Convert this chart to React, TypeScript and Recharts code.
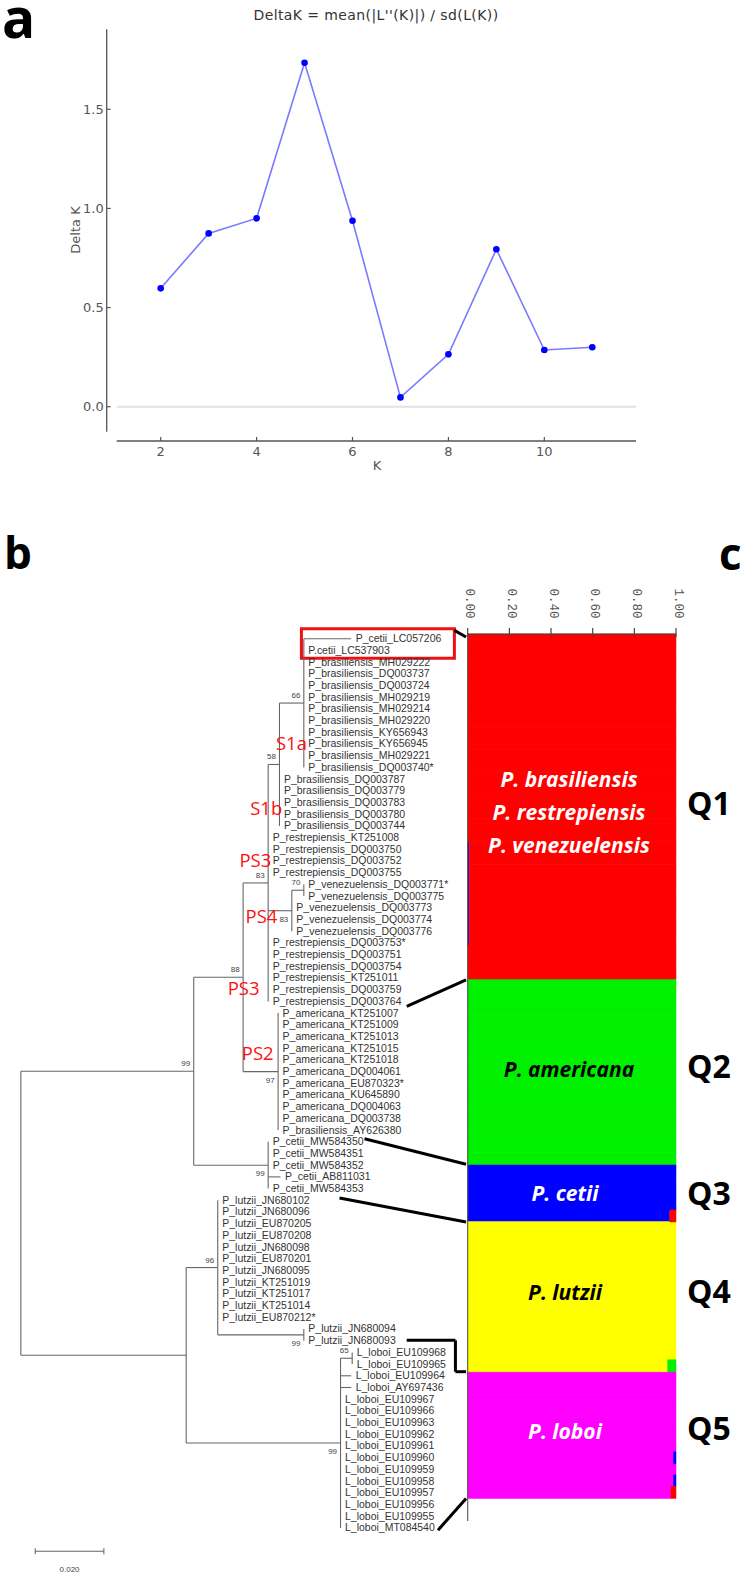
import React from 'react'
import {
  LineChart,
  Line,
  XAxis,
  YAxis,
  ReferenceLine,
  ReferenceArea,
  ScatterChart,
  Scatter,
  BarChart,
  Bar,
} from 'recharts'

// ---------- panel a: Evanno delta K ----------
const kValues = [2, 3, 4, 5, 6, 7, 8, 9, 10, 11]
const deltaK = [0.597, 0.874, 0.95, 1.735, 0.938, 0.047, 0.264, 0.794, 0.286, 0.3]
const kTicks = [2, 4, 6, 8, 10]
const dkTicks = [0, 0.5, 1, 1.5]

// ---------- panel b: tree ----------
const leafNames = [
  'P_cetii_LC057206',
  'P.cetii_LC537903',
  'P_brasiliensis_MH029222',
  'P_brasiliensis_DQ003737',
  'P_brasiliensis_DQ003724',
  'P_brasiliensis_MH029219',
  'P_brasiliensis_MH029214',
  'P_brasiliensis_MH029220',
  'P_brasiliensis_KY656943',
  'P_brasiliensis_KY656945',
  'P_brasiliensis_MH029221',
  'P_brasiliensis_DQ003740*',
  'P_brasiliensis_DQ003787',
  'P_brasiliensis_DQ003779',
  'P_brasiliensis_DQ003783',
  'P_brasiliensis_DQ003780',
  'P_brasiliensis_DQ003744',
  'P_restrepiensis_KT251008',
  'P_restrepiensis_DQ003750',
  'P_restrepiensis_DQ003752',
  'P_restrepiensis_DQ003755',
  'P_venezuelensis_DQ003771*',
  'P_venezuelensis_DQ003775',
  'P_venezuelensis_DQ003773',
  'P_venezuelensis_DQ003774',
  'P_venezuelensis_DQ003776',
  'P_restrepiensis_DQ003753*',
  'P_restrepiensis_DQ003751',
  'P_restrepiensis_DQ003754',
  'P_restrepiensis_KT251011',
  'P_restrepiensis_DQ003759',
  'P_restrepiensis_DQ003764',
  'P_americana_KT251007',
  'P_americana_KT251009',
  'P_americana_KT251013',
  'P_americana_KT251015',
  'P_americana_KT251018',
  'P_americana_DQ004061',
  'P_americana_EU870323*',
  'P_americana_KU645890',
  'P_americana_DQ004063',
  'P_americana_DQ003738',
  'P_brasiliensis_AY626380',
  'P_cetii_MW584350',
  'P_cetii_MW584351',
  'P_cetii_MW584352',
  'P_cetii_AB811031',
  'P_cetii_MW584353',
  'P_lutzii_JN680102',
  'P_lutzii_JN680096',
  'P_lutzii_EU870205',
  'P_lutzii_EU870208',
  'P_lutzii_JN680098',
  'P_lutzii_EU870201',
  'P_lutzii_JN680095',
  'P_lutzii_KT251019',
  'P_lutzii_KT251017',
  'P_lutzii_KT251014',
  'P_lutzii_EU870212*',
  'P_lutzii_JN680094',
  'P_lutzii_JN680093',
  'L_loboi_EU109968',
  'L_loboi_EU109965',
  'L_loboi_EU109964',
  'L_loboi_AY697436',
  'L_loboi_EU109967',
  'L_loboi_EU109966',
  'L_loboi_EU109963',
  'L_loboi_EU109962',
  'L_loboi_EU109961',
  'L_loboi_EU109960',
  'L_loboi_EU109959',
  'L_loboi_EU109958',
  'L_loboi_EU109957',
  'L_loboi_EU109956',
  'L_loboi_EU109955',
  'L_loboi_MT084540',
]

const range = (a: number, b: number) => {
  const out: number[] = []
  for (let i = a; i <= b; i++) out.push(i)
  return out
}

// internal nodes: depth from root (substitutions/site), bootstrap, children (leaf no. or clade id)
const clades: { id: string; depth: number; support: string; kids: (string | number)[] }[] = [
  { id: 'root', depth: 0, support: '', kids: ['upper', 'lower'] },
  { id: 'upper', depth: 0.0504, support: '99', kids: ['n88', 'cetii'] },
  { id: 'n88', depth: 0.0648, support: '88', kids: ['n83', 'amer'] },
  { id: 'n83', depth: 0.0721, support: '83', kids: ['n58', 18, 19, 20, 21, 'venez', 27, 28, 29, 30, 31, 32] },
  { id: 'n58', depth: 0.0754, support: '58', kids: ['n66', 13, 14, 15, 16, 17] },
  { id: 'n66', depth: 0.0825, support: '66', kids: range(1, 12) },
  { id: 'venez', depth: 0.079, support: '83', kids: ['n70', 24, 25, 26] },
  { id: 'n70', depth: 0.0825, support: '70', kids: [22, 23] },
  { id: 'amer', depth: 0.075, support: '97', kids: range(33, 43) },
  { id: 'cetii', depth: 0.0721, support: '99', kids: range(44, 48) },
  { id: 'lower', depth: 0.0482, support: '', kids: ['lutzii', 'loboi'] },
  { id: 'lutzii', depth: 0.0574, support: '96', kids: [...range(49, 59), 'lutz2'] },
  { id: 'lutz2', depth: 0.0825, support: '99', kids: [60, 61] },
  { id: 'loboi', depth: 0.0932, support: '99', kids: ['lob65', ...range(64, 77)] },
  { id: 'lob65', depth: 0.0966, support: '65', kids: [62, 63] },
]

// leaves with a visible terminal branch
const leafTips: Record<number, number> = { 1: 0.0963, 47: 0.0757, 64: 0.0963, 65: 0.0963 }

const supportBelow = ['venez', 'amer', 'cetii', 'lutz2', 'loboi']

const cladeTags = [
  { text: 'S1a', x: 0.0834, y: 9.84 },
  { text: 'S1b', x: 0.0762, y: 15.47 },
  { text: 'PS3', x: 0.073, y: 19.9 },
  { text: 'PS4', x: 0.0748, y: 24.65 },
  { text: 'PS3', x: 0.0696, y: 30.77 },
  { text: 'PS2', x: 0.0737, y: 36.34 },
]

// links from tree to the structure bar
const connectors: [number, number][][] = [
  [[0.1264, 0.29], [0.1298, 0.85]],
  [[0.1125, 32.43], [0.1298, 30.17]],
  [[0.1002, 43.74], [0.1298, 45.92]],
  [[0.0929, 48.81], [0.1298, 50.85]],
  [[0.1125, 60.97], [0.1267, 60.97], [0.1267, 63.65], [0.1298, 63.65]],
  [[0.1216, 77.2], [0.1298, 74.48]],
]

// ---------- panel c: structure ----------
const clusters = ['Q1', 'Q2', 'Q3', 'Q4', 'Q5']
const clusterSizes = [30, 16, 5, 13, 11]
const blankRows = 2
const clusterColors: Record<string, string> = {
  Q1: '#ff0000',
  Q2: '#00f000',
  Q3: '#0000ff',
  Q4: '#ffff00',
  Q5: '#ff00ff',
}
const stackOrder = ['Q5', 'Q3', 'Q4', 'Q1', 'Q2']
const admixture = [
  { first: 18, last: 26, cluster: 'Q3', share: 0.007 },
  { first: 50, last: 50, cluster: 'Q1', share: 0.03 },
  { first: 63, last: 63, cluster: 'Q2', share: 0.04 },
  { first: 71, last: 71, cluster: 'Q3', share: 0.012 },
  { first: 73, last: 73, cluster: 'Q3', share: 0.012 },
  { first: 74, last: 74, cluster: 'Q1', share: 0.025 },
]
const qTicks = [0, 0.2, 0.4, 0.6, 0.8, 1]

// ---------- derived tables ----------
const lineData = kValues.map((k, i) => ({ k, dk: deltaK[i] }))

const cladeMap: Record<string, (typeof clades)[number]> = {}
clades.forEach((c) => (cladeMap[c.id] = c))
const parentDepth: Record<number, number> = {}
clades.forEach((c) => c.kids.forEach((k) => typeof k === 'number' && (parentDepth[k] = c.depth)))

const nodeY: Record<string, number> = {}
const yOf = (k: string | number): number => {
  if (typeof k === 'number') return k
  if (nodeY[k] !== undefined) return nodeY[k]
  const c = cladeMap[k]
  const y = (yOf(c.kids[0]) + yOf(c.kids[c.kids.length - 1])) / 2
  nodeY[k] = y
  return y
}
const xOf = (k: string | number, parent: number) =>
  typeof k === 'number' ? leafTips[k] ?? parent : cladeMap[k].depth

const branches: { x1: number; y1: number; x2: number; y2: number }[] = []
clades.forEach((c) => {
  const first = c.kids[0]
  const last = c.kids[c.kids.length - 1]
  branches.push({ x1: c.depth, y1: yOf(first), x2: c.depth, y2: yOf(last) })
  c.kids.forEach((k) => {
    const kx = xOf(k, c.depth)
    if (kx > c.depth + 1e-6) branches.push({ x1: c.depth, y1: yOf(k), x2: kx, y2: yOf(k) })
  })
})

const leafPoints = leafNames.map((name, i) => ({
  x: leafTips[i + 1] ?? parentDepth[i + 1],
  y: i + 1,
  name,
}))
const supportPoints = clades
  .filter((c) => c.support)
  .map((c) => ({ x: c.depth, y: yOf(c.id), support: c.support, below: supportBelow.includes(c.id) }))

const structureRows: Record<string, number | string>[] = []
clusters.forEach((q, ci) => {
  for (let n = 0; n < clusterSizes[ci]; n++) {
    const row: Record<string, number | string> = { id: `s${structureRows.length}`, home: q }
    clusters.forEach((c) => (row[c] = c === q ? 1 : 0))
    structureRows.push(row)
  }
})
admixture.forEach((a) => {
  for (let r = a.first; r <= a.last; r++) {
    const row = structureRows[r]
    row[a.cluster] = a.share
    row[row.home as string] = 1 - a.share
  }
})
for (let b = 0; b < blankRows; b++) {
  const row: Record<string, number | string> = { id: `b${b}`, home: '' }
  clusters.forEach((c) => (row[c] = 0))
  structureRows.push(row)
}

// ---------- styling ----------
const axisGray = '#555'
const mplFont = "'DejaVu Sans', sans-serif"
const treeFont = "'Liberation Sans', Arial, sans-serif"
const calibri = "'Open Sans', sans-serif"
const treeStroke = '#666'

const PLOT_A_LEFT = 106.7

const YTick = (props: any) => {
  const { y, payload } = props
  return (
    <g>
      <line x1={PLOT_A_LEFT} x2={PLOT_A_LEFT + 4} y1={y} y2={y} stroke={axisGray} strokeWidth={1.2} />
      <text x={PLOT_A_LEFT - 3} y={y} textAnchor='end' dominantBaseline='central' fontSize={13} fontFamily={mplFont} fill='#555'>
        {Number(payload.value).toFixed(1)}
      </text>
    </g>
  )
}

const XTick = (props: any) => {
  const { x, payload } = props
  return (
    <g>
      <line x1={x} x2={x} y1={441} y2={437} stroke={axisGray} strokeWidth={1.2} />
      <text x={x} y={451} textAnchor='middle' dominantBaseline='central' fontSize={13} fontFamily={mplFont} fill='#555'>
        {payload.value}
      </text>
    </g>
  )
}

const LeafText = (props: any) => {
  const { cx, cy, payload } = props
  return (
    <text x={cx + 4.5} y={cy} dominantBaseline='central' fontSize={10.5} fontFamily={treeFont} fill='#333'>
      {payload.name}
    </text>
  )
}

const SupportText = (props: any) => {
  const { cx, cy, payload } = props
  return (
    <text
      x={cx - 3.5}
      y={cy + (payload.below ? 8.5 : -7.5)}
      textAnchor='end'
      dominantBaseline='central'
      fontSize={8}
      fontFamily={treeFont}
      fill='#444'
    >
      {payload.support}
    </text>
  )
}

const TagText = (props: any) => {
  const { cx, cy, payload } = props
  return (
    <text x={cx} y={cy} textAnchor='end' dominantBaseline='central' fontSize={18.5} fontFamily={calibri} fill='#ff1010'>
      {payload.text}
    </text>
  )
}

const ScaleText = (props: any) => {
  const { cx, cy, payload } = props
  return (
    <text x={cx} y={cy} textAnchor='middle' dominantBaseline='central' fontSize={8} fontFamily={treeFont} fill='#444'>
      {payload.text}
    </text>
  )
}

const QTick = (props: any) => {
  const { x, payload } = props
  return (
    <g>
      <line x1={x} x2={x} y1={53} y2={62} stroke='#444' strokeWidth={1.2} />
      <text
        transform={`translate(${x + 1.5},13.5) rotate(90)`}
        dominantBaseline='central'
        fontSize={12.5}
        fontFamily="'Liberation Mono', monospace"
        fill='#555'
      >
        {Number(payload.value).toFixed(2)}
      </text>
    </g>
  )
}

const DeltaKChart = () => (
  <LineChart width={746} height={480} data={lineData} margin={{ top: 29.3, right: 110, bottom: 9, left: 66.7 }}>
    <XAxis
      dataKey='k'
      type='number'
      domain={[0.874, 11.912]}
      ticks={kTicks}
      allowDataOverflow
      height={30}
      axisLine={false}
      tickLine={false}
      tick={XTick}
    />
    <YAxis
      type='number'
      domain={[-0.173, 1.9035]}
      ticks={dkTicks}
      allowDataOverflow
      width={40}
      axisLine={false}
      tickLine={false}
      tick={YTick}
    />
    <ReferenceLine segment={[{ x: 1.082, y: 0 }, { x: 11.912, y: 0 }]} stroke='#e2e2e2' strokeWidth={2} ifOverflow='visible' />
    <ReferenceLine segment={[{ x: 0.874, y: -0.126 }, { x: 0.874, y: 1.9035 }]} stroke={axisGray} strokeWidth={1.3} ifOverflow='visible' />
    <ReferenceLine segment={[{ x: 1.082, y: -0.173 }, { x: 11.912, y: -0.173 }]} stroke={axisGray} strokeWidth={1.3} ifOverflow='visible' />
    <Line
      dataKey='dk'
      type='linear'
      stroke='#7a7aff'
      strokeWidth={1.6}
      dot={{ r: 3.3, fill: '#0000ff', stroke: '#0000ff', strokeWidth: 0 }}
      isAnimationActive={false}
    />
  </LineChart>
)

const TreeChart = () => (
  <ScatterChart width={459.62} height={953.55} margin={{ top: 0, right: 0, bottom: 0, left: 0 }}>
    <XAxis dataKey='x' type='number' domain={[-0.002, 0.132]} allowDataOverflow hide />
    <YAxis dataKey='y' type='number' domain={[0, 81.5]} allowDataOverflow reversed hide />
    {branches.map((b, i) => (
      <ReferenceLine
        key={`br${i}`}
        segment={[{ x: b.x1, y: b.y1 }, { x: b.x2, y: b.y2 }]}
        stroke={treeStroke}
        strokeWidth={1.1}
        ifOverflow='visible'
      />
    ))}
    {/* scale bar 0.020 */}
    <ReferenceLine segment={[{ x: 0.0042, y: 79 }, { x: 0.0242, y: 79 }]} stroke={treeStroke} strokeWidth={1.1} ifOverflow='visible' />
    <ReferenceLine segment={[{ x: 0.0042, y: 78.75 }, { x: 0.0042, y: 79.25 }]} stroke={treeStroke} strokeWidth={1.1} ifOverflow='visible' />
    <ReferenceLine segment={[{ x: 0.0242, y: 78.75 }, { x: 0.0242, y: 79.25 }]} stroke={treeStroke} strokeWidth={1.1} ifOverflow='visible' />
    <ReferenceArea x1={0.0818} x2={0.1264} y1={0.145} y2={2.66} fill='none' fillOpacity={0} stroke='#ee1111' strokeWidth={3} ifOverflow='visible' />
    {connectors.flatMap((path, i) =>
      path.slice(1).map((p, j) => (
        <ReferenceLine
          key={`cn${i}-${j}`}
          segment={[{ x: path[j][0], y: path[j][1] }, { x: p[0], y: p[1] }]}
          stroke='#000'
          strokeWidth={3}
          ifOverflow='visible'
        />
      ))
    )}
    <Scatter data={leafPoints} shape={LeafText} isAnimationActive={false} />
    <Scatter data={supportPoints} shape={SupportText} isAnimationActive={false} />
    <Scatter data={cladeTags} shape={TagText} isAnimationActive={false} />
    <Scatter data={[{ x: 0.0142, y: 80.55, text: '0.020' }]} shape={ScaleText} isAnimationActive={false} />
  </ScatterChart>
)

const StructureChart = () => (
  <BarChart
    width={250}
    height={950}
    data={structureRows}
    layout='vertical'
    barCategoryGap={0}
    barGap={0}
    margin={{ top: 0, right: 14, bottom: 4, left: 27.7 }}
  >
    <XAxis
      type='number'
      orientation='top'
      domain={[0, 1]}
      ticks={qTicks}
      height={59}
      axisLine={{ stroke: '#444', strokeWidth: 1.2 }}
      tickLine={false}
      tick={QTick}
    />
    <YAxis type='category' dataKey='id' hide />
    {stackOrder.map((q) => (
      <Bar
        key={q}
        dataKey={q}
        stackId='s'
        fill={clusterColors[q]}
        stroke={clusterColors[q]}
        strokeWidth={0.5}
        isAnimationActive={false}
      />
    ))}
    <ReferenceLine x={0} stroke='#555' strokeWidth={1.1} />
  </BarChart>
)

const App: React.FC = () => {
  const bold = { fontFamily: calibri, fontWeight: 700 }
  const inBar = { fontFamily: calibri, fontWeight: 700, fontStyle: 'italic', fontSize: 21 }
  return (
    <div style={{ position: 'absolute', left: 0, top: 0, width: 746, height: 1573, overflow: 'hidden', background: '#fff' }}>
      <div style={{ position: 'absolute', left: 0, top: 0 }}>
        <DeltaKChart />
      </div>
      <div style={{ position: 'absolute', left: 14.44, top: 626.6 }}>
        <TreeChart />
      </div>
      <div style={{ position: 'absolute', left: 440, top: 575 }}>
        <StructureChart />
      </div>
      <svg width={746} height={1573} style={{ position: 'absolute', left: 0, top: 0, pointerEvents: 'none' }}>
        <text x={2} y={38.3} fontSize={55} {...bold} fill='#000'>a</text>
        <text x={4} y={569.3} fontSize={44} {...bold} fill='#000'>b</text>
        <text x={719} y={570} fontSize={44} {...bold} fill='#000'>c</text>

        <text x={376} y={20} textAnchor='middle' fontSize={14} letterSpacing={0.4} fontFamily={mplFont} fill='#333'>
          DeltaK = mean(|L''(K)|) / sd(L(K))
        </text>
        <text x={377} y={465} textAnchor='middle' dominantBaseline='central' fontSize={13} fontFamily={mplFont} fill='#555'>
          K
        </text>
        <text
          transform='translate(75,230) rotate(-90)'
          textAnchor='middle'
          dominantBaseline='central'
          fontSize={13}
          fontFamily={mplFont}
          fill='#555'
        >
          Delta K
        </text>

        <text x={569} y={787} textAnchor='middle' {...inBar} fill='#fff'>P. brasiliensis</text>
        <text x={569} y={820} textAnchor='middle' {...inBar} fill='#fff'>P. restrepiensis</text>
        <text x={569} y={853} textAnchor='middle' {...inBar} fill='#fff'>P. venezuelensis</text>
        <text x={569} y={1077} textAnchor='middle' {...inBar} fill='#000'>P. americana</text>
        <text x={565} y={1201} textAnchor='middle' {...inBar} fill='#fff'>P. cetii</text>
        <text x={565} y={1300} textAnchor='middle' {...inBar} fill='#000'>P. lutzii</text>
        <text x={565} y={1439} textAnchor='middle' {...inBar} fill='#fff'>P. loboi</text>

        <text x={687} y={815} fontSize={32} {...bold} fill='#000'>Q1</text>
        <text x={687} y={1078} fontSize={32} {...bold} fill='#000'>Q2</text>
        <text x={687} y={1205} fontSize={32} {...bold} fill='#000'>Q3</text>
        <text x={687} y={1303} fontSize={32} {...bold} fill='#000'>Q4</text>
        <text x={687} y={1440} fontSize={32} {...bold} fill='#000'>Q5</text>
      </svg>
    </div>
  )
}

export default App
